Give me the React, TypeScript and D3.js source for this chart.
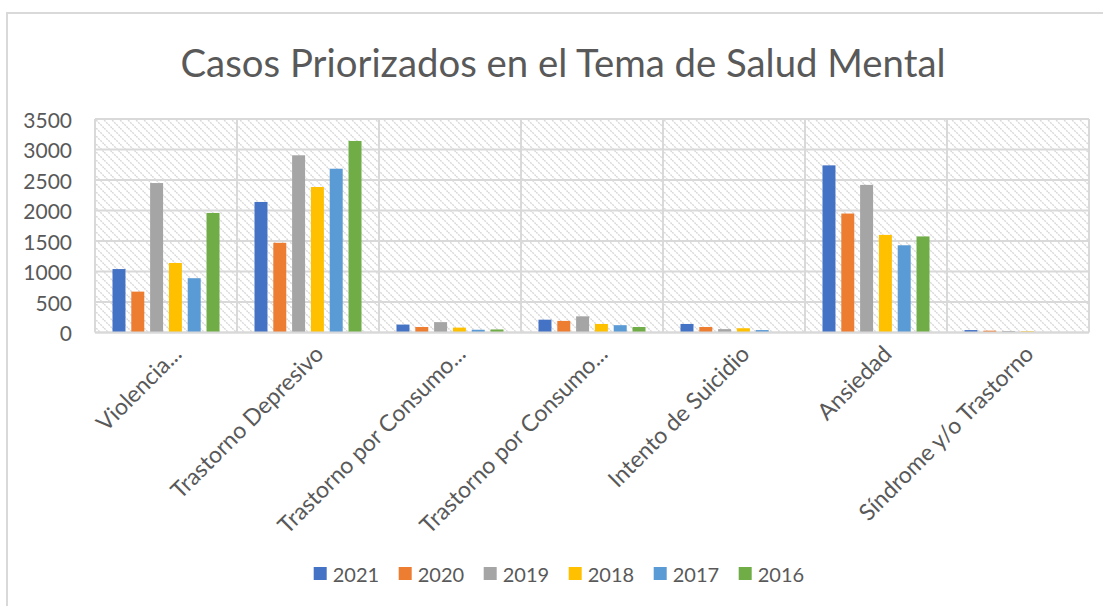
import React from "react";
import * as d3 from "d3";

const categories = [
  "Violencia...",
  "Trastorno Depresivo",
  "Trastorno por Consumo...",
  "Trastorno por Consumo... ",
  "Intento de Suicidio",
  "Ansiedad",
  "Síndrome y/o Trastorno",
];
const years = ["2021", "2020", "2019", "2018", "2017", "2016"];
const v2021 = [1040, 2140, 130, 210, 140, 2740, 40];
const v2020 = [670, 1470, 90, 190, 90, 1950, 30];
const v2019 = [2450, 2905, 170, 265, 55, 2420, 25];
const v2018 = [1140, 2385, 80, 140, 70, 1600, 20];
const v2017 = [890, 2685, 45, 120, 40, 1430, 3];
const v2016 = [1960, 3140, 50, 90, 8, 1575, 6];
const seriesValues = [v2021, v2020, v2019, v2018, v2017, v2016];
const colors = ["#4472C4", "#ED7D31", "#A5A5A5", "#FFC000", "#5B9BD5", "#70AD47"];
const yTicks = [0, 500, 1000, 1500, 2000, 2500, 3000, 3500];

const W = 1103;
const H = 606;
const plotL = 95;
const plotR = 1089;
const plotT = 119;
const plotB = 332.5;
const FONT = "Lato, 'Open Sans', sans-serif";
const TXT = "#595959";
const GRID = "#d9d9d9";

export default function App() {
  const x0 = d3.scaleBand<string>().domain(categories).range([plotL, plotR]).padding(0);
  const x1 = d3
    .scaleBand<string>()
    .domain(years)
    .range([0, x0.bandwidth()])
    .paddingInner(0.31)
    .paddingOuter(0.93);
  const y = d3.scaleLinear().domain([0, 3500]).range([plotB, plotT]);

  const legendStep = 85;
  const legendX0 = 313.7;

  return (
    <svg
      width={W}
      height={H}
      style={{ position: "absolute", left: 0, top: 0, background: "#fff" }}
    >
      <defs>
        <pattern id="hatch" patternUnits="userSpaceOnUse" width="8" height="8">
          <rect width="8" height="8" fill="#ffffff" />
          <path
            d="M-2,-2 L10,10 M-6,2 L2,10 M6,-2 L10,2"
            stroke="#d9d9d9"
            strokeWidth="1.4"
            strokeDasharray="2 1"
          />
        </pattern>
      </defs>
      <rect x={0} y={0} width={W} height={H} fill="#fff" />
      {/* chart outer border */}
      <rect x={7} y={13} width={W + 20} height={H + 20} fill="none" stroke={GRID} strokeWidth={2} />

      {/* title */}
      <text
        x={563}
        y={77}
        textAnchor="middle"
        fontFamily={FONT}
        fontSize={38}
        fill={TXT}
        textLength={765}
        lengthAdjust="spacingAndGlyphs"
      >
        Casos Priorizados en el Tema de Salud Mental
      </text>

      {/* plot background */}
      <rect x={plotL} y={plotT} width={plotR - plotL} height={plotB - plotT} fill="url(#hatch)" />

      {/* horizontal gridlines */}
      {yTicks.map((t) => (
        <line key={"g" + t} x1={plotL} x2={plotR} y1={y(t)} y2={y(t)} stroke={GRID} strokeWidth={2} />
      ))}
      {/* vertical category separators */}
      {categories.map((c) => (
        <line
          key={"v" + c}
          x1={x0(c)!}
          x2={x0(c)!}
          y1={plotT}
          y2={plotB}
          stroke={GRID}
          strokeWidth={2}
        />
      ))}
      <line x1={plotR} x2={plotR} y1={plotT} y2={plotB} stroke={GRID} strokeWidth={2} />

      {/* bars */}
      {categories.map((c, ci) => (
        <g key={"bars" + ci} transform={`translate(${x0(c)},0)`}>
          {years.map((yr, si) => {
            const v = seriesValues[si][ci];
            return (
              <rect
                key={yr}
                x={x1(yr)!}
                y={y(v)}
                width={x1.bandwidth()}
                height={plotB - y(v)}
                fill={colors[si]}
              />
            );
          })}
        </g>
      ))}

      {/* axis line */}
      <line x1={plotL} x2={plotR} y1={plotB} y2={plotB} stroke={GRID} strokeWidth={2} />

      {/* y tick labels */}
      {yTicks.map((t) => (
        <text
          key={"t" + t}
          x={72}
          y={y(t)}
          textAnchor="end"
          dominantBaseline="central"
          fontFamily={FONT}
          fontSize={21}
          fill={TXT}
        >
          {t}
        </text>
      ))}

      {/* category labels */}
      {categories.map((c) => {
        const cx = x0(c)! + x0.bandwidth() / 2 + 4;
        return (
          <text
            key={"c" + c}
            transform={`translate(${cx},${plotB + 10}) rotate(-45)`}
            textAnchor="end"
            dominantBaseline="hanging"
            fontFamily={FONT}
            fontSize={23}
            fill={TXT}
          >
            {c.trim()}
          </text>
        );
      })}

      {/* legend */}
      {years.map((yr, i) => {
        const lx = legendX0 + i * legendStep;
        return (
          <g key={"l" + yr}>
            <rect x={lx} y={567} width={13} height={13} fill={colors[i]} />
            <text
              x={lx + 19}
              y={574}
              dominantBaseline="central"
              fontFamily={FONT}
              fontSize={20}
              fill={TXT}
            >
              {yr}
            </text>
          </g>
        );
      })}
    </svg>
  );
}
